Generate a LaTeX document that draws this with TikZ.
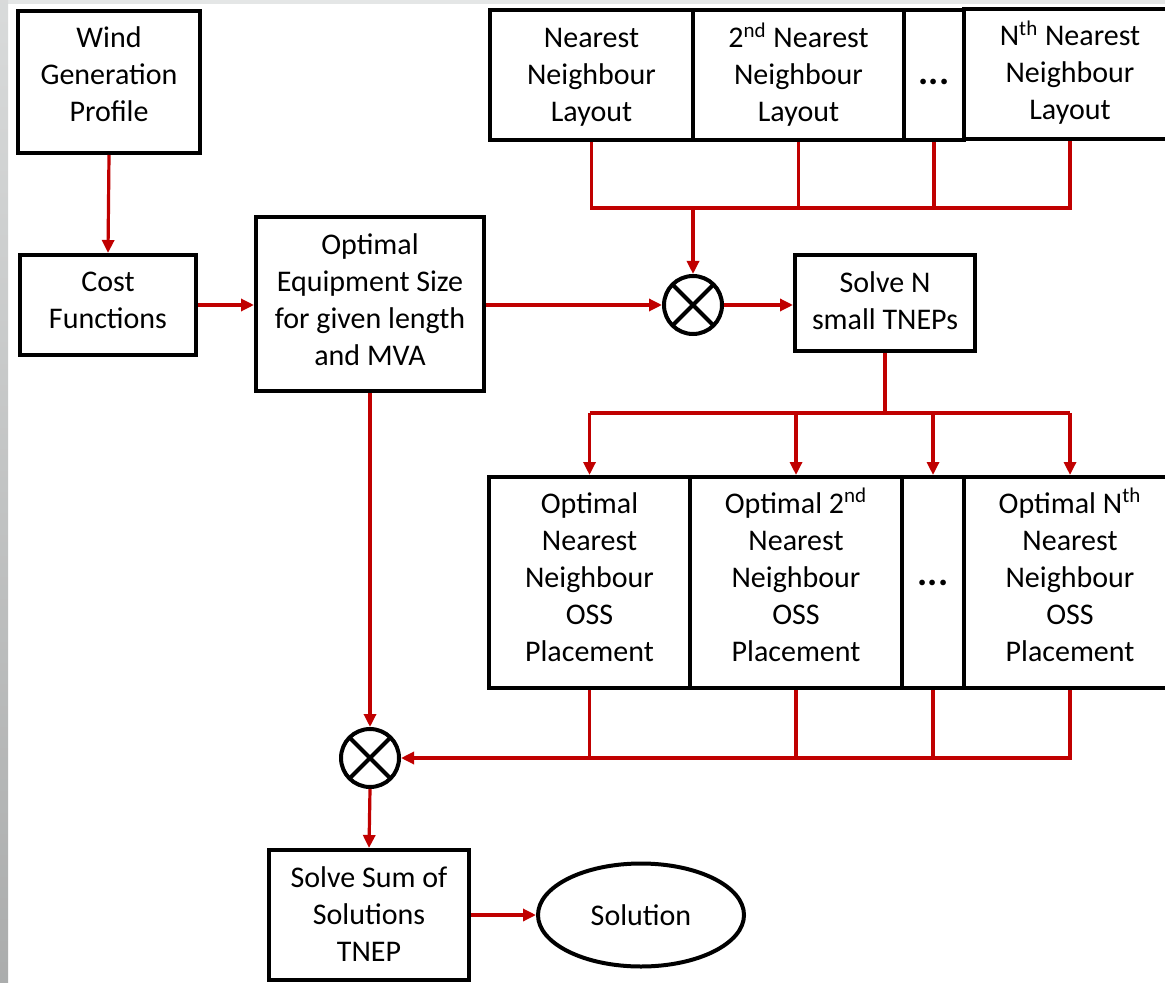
\documentclass[tikz,border=0pt]{standalone}
\usepackage{fontspec}
\setmainfont{Carlito}
\usetikzlibrary{arrows.meta,shapes.geometric}
\definecolor{wirered}{RGB}{192,0,0}
\definecolor{edgegrey}{RGB}{228,230,230}
\tikzset{
  box/.style={draw=black, line width=2pt, fill=white, align=center, inner sep=0pt,
    text height=11pt, text depth=4pt,
    font=\fontsize{15pt}{18.5pt}\selectfont},
  tl/.style 2 args={text height=#1, text depth=#2},
  dots/.style={font=\fontsize{19pt}{18.5pt}\selectfont\bfseries},
  mixer/.style={circle, draw=black, line width=2pt, minimum size=29pt, inner sep=0pt,
    path picture={\draw[line width=2pt] (path picture bounding box.north west) -- (path picture bounding box.south east)
      (path picture bounding box.north east) -- (path picture bounding box.south west);}},
  wire/.style={draw=wirered, line width=1.6pt},
  arr/.style={wire, -{Triangle[length=6.5pt,width=6pt]}},
}
\begin{document}
\begin{tikzpicture}[x=0.5pt,y=-0.5pt]
\useasboundingbox (0,0) rectangle (1165,983);
\fill[white] (0,0) rectangle (1165,983);
\fill[edgegrey] (0,0) rectangle (1165,4);
\shade[top color=edgegrey!95!black, bottom color=black!25!edgegrey] (0,0) rectangle (8,983);

% nodes
\node[box, tl={48pt}{8pt}, minimum width=91pt, minimum height=71pt] (wind) at (109,82) {Wind\\Generation\\Profile};
\node[box, tl={29.5pt}{5.5pt}, minimum width=88pt, minimum height=50pt] (cost) at (108,305) {Cost\\Functions};
\node[box, tl={66.5pt}{4.5pt}, minimum width=114pt, minimum height=87pt] (opt) at (370,304) {Optimal\\Equipment Size\\for given length\\and MVA};

\node[box, tl={48pt}{1pt}, minimum width=101.5pt, minimum height=65pt] (nn1) at (591.5,75) {Nearest\\Neighbour\\Layout};
\node[box, tl={48pt}{1pt}, minimum width=105.5pt, minimum height=65pt] (nn2) at (798.5,75) {2\textsuperscript{nd} Nearest\\Neighbour\\Layout};
\node[box, dots, tl={11pt}{1pt}, minimum width=30pt, minimum height=65pt] (nnd) at (934,75) {...};
\node[box, tl={48pt}{2pt}, minimum width=106pt, minimum height=65pt] (nnN) at (1070,74) {N\textsuperscript{th} Nearest\\Neighbour\\Layout};

\node[mixer] (mx1) at (693,305) {};
\node[box, tl={29.5pt}{2.5pt}, minimum width=90pt, minimum height=48pt] (solveN) at (885,303) {Solve N\\small TNEPs};

\node[box, tl={85pt}{6.5pt}, minimum width=100.5pt, minimum height=105.5pt] (on1) at (589.5,582.5) {Optimal\\Nearest\\Neighbour\\OSS\\Placement};
\node[box, tl={85pt}{6.5pt}, minimum width=106pt, minimum height=105.5pt] (on2) at (796,582.5) {Optimal 2\textsuperscript{nd}\\Nearest\\Neighbour\\OSS\\Placement};
\node[box, dots, tl={11pt}{8.5pt}, minimum width=31pt, minimum height=105.5pt] (ond) at (933,582.5) {...};
\node[box, tl={85pt}{6.5pt}, minimum width=106pt, minimum height=105.5pt] (onN) at (1070,582.5) {Optimal N\textsuperscript{th}\\Nearest\\Neighbour\\OSS\\Placement};

\node[mixer] (mx2) at (370,758) {};
\node[box, tl={48pt}{2pt}, minimum width=100pt, minimum height=65pt] (sum) at (369,915) {Solve Sum of\\Solutions\\TNEP};
\node[box, ellipse, tl={11pt}{1pt}, minimum width=103pt, minimum height=51.5pt] (sol) at (641,915) {Solution};

% connectors
\draw[arr] (wind.south) -- (cost.north);
\draw[arr] (cost.east) -- (cost.east -| opt.west);
\draw[arr] (opt.east |- mx1.west) -- (mx1.west);
\draw[arr] (mx1.east) -- (mx1.east -| solveN.west);

\draw[wire] (nn1.south) -- (nn1.south |- 0,208) -- (nnN.south |- 0,208) -- (nnN.south);
\draw[wire] (nn2.south) -- (nn2.south |- 0,208);
\draw[wire] (nnd.south) -- (nnd.south |- 0,208);
\draw[arr] (mx1.north |- 0,208) -- (mx1.north);

\draw[wire] (solveN.south) -- (solveN.south |- 0,413);
\draw[wire] (on1.north |- 0,413) -- (onN.north |- 0,413);
\draw[arr] (on1.north |- 0,413) -- (on1.north);
\draw[arr] (on2.north |- 0,413) -- (on2.north);
\draw[arr] (ond.north |- 0,413) -- (ond.north);
\draw[arr] (onN.north |- 0,413) -- (onN.north);

\draw[wire] (on1.south) -- (on1.south |- mx2.east);
\draw[wire] (on2.south) -- (on2.south |- mx2.east);
\draw[wire] (ond.south) -- (ond.south |- mx2.east);
\draw[arr] (onN.south) -- (onN.south |- mx2.east) -- (mx2.east);

\draw[arr] (opt.south) -- (mx2.north);
\draw[arr] (mx2.south) -- (sum.north);
\draw[arr] (sum.east) -- (sol.west);
\end{tikzpicture}
\end{document}
